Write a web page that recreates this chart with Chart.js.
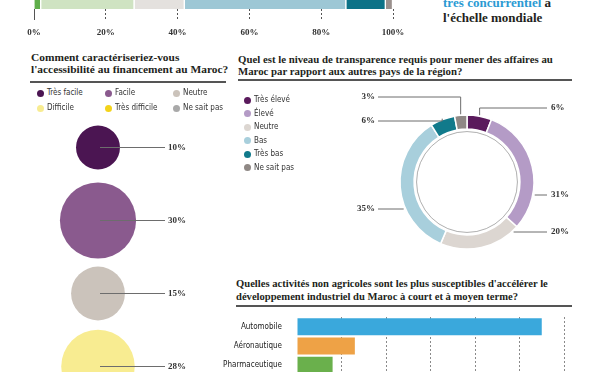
<!DOCTYPE html>
<html>
<head>
<meta charset="utf-8">
<script src="https://cdn.jsdelivr.net/npm/chart.js@4/dist/chart.umd.min.js"></script>
<style>
  body { margin: 0; width: 600px; height: 372px; overflow: hidden; background: #fff; position: relative; }
  canvas { position: absolute; }
  .t { position: absolute; font-family: "Liberation Serif", serif; font-weight: bold; color: #231f20; white-space: nowrap; }
  .rule { position: absolute; height: 1.5px; background: #555; }
  .lg { position: absolute; font-family: "DejaVu Sans Condensed", "Liberation Sans Narrow", Roboto, sans-serif; font-size: 8px; color: #333; white-space: nowrap; line-height: 10px; }
  .lg i { position: absolute; width: 7px; height: 7px; border-radius: 50%; left: -10px; top: 1.5px; }
</style>
</head>
<body>

<div class="t" style="left:443px;top:-4px;font-size:13px;line-height:13px"><span style="color:#2b9ad3">très concurrentiel</span> à</div>
<div class="t" style="left:443px;top:11px;font-size:13px;line-height:13px">l'échelle mondiale</div>

<div class="t" style="left:31px;top:52px;font-size:11.4px;line-height:11.5px">Comment caractériseriez-vous<br>l'accessibilité au financement au Maroc?</div>
<div class="rule" style="left:30px;top:81px;width:196px"></div>

<div class="t" style="left:238px;top:53px;font-size:10.8px;line-height:12px">Quel est le niveau de transparence requis pour mener des affaires au<br>Maroc par rapport aux autres pays de la région?</div>
<div class="rule" style="left:238px;top:79px;width:334px"></div>

<div class="t" style="left:236px;top:278px;font-size:10.6px;line-height:12.5px">Quelles activités non agricoles sont les plus susceptibles d'accélérer le<br>développement industriel du Maroc à court et à moyen terme?</div>
<div class="rule" style="left:236px;top:305px;width:336px"></div>

<canvas id="topBar" width="600" height="50" style="left:0;top:-11px"></canvas>
<canvas id="bubbles" width="230" height="300" style="left:0;top:110px"></canvas>
<canvas id="donut" width="250" height="200" style="left:342px;top:82px"></canvas>
<canvas id="sectors" width="400" height="58" style="left:200px;top:317px"></canvas>

<script>
// top stacked bar (legend is outside the crop)
const topSegments = ["Réponse 1", "Réponse 2", "Réponse 3", "Réponse 4", "Réponse 5", "Réponse 6"];
const topValues = [2, 26, 14, 45, 11, 2];
const topColors = ["#5fae4a", "#cfe3c2", "#e4e1de", "#9dc7d5", "#0c7287", "#9a908d"];

// accessibilité au financement
const finCategories = ["Très facile", "Facile", "Neutre", "Difficile", "Très difficile", "Ne sait pas"];
const finColors = ["#4b1552", "#8a5a8e", "#cbc3bb", "#f8ec91", "#f3d31a", "#a9a9a9"];
const finValues = [10, 30, 15, 28];

// transparence
const transCategories = ["Très élevé", "Élevé", "Neutre", "Bas", "Très bas", "Ne sait pas"];
const transValues = [6, 31, 20, 35, 6, 3];
const transColors = ["#5a1a5c", "#b49bc6", "#dcd6d1", "#a8cfdc", "#117a8b", "#8f8885"];

// activités non agricoles
const sectors = ["Automobile", "Aéronautique", "Pharmaceutique"];
const sectorValues = [55, 13, 8];
const sectorColors = ["#3aa8dc", "#eea246", "#6ab04c"];

const serif = "Liberation Serif";
const narrow = "'DejaVu Sans Condensed', 'Liberation Sans Narrow', Roboto, sans-serif";

// html legends
finCategories.forEach((c, i) => {
  const d = document.createElement("div");
  d.className = "lg";
  d.style.left = (47 + (i % 3) * 68) + "px";
  d.style.top = (88 + Math.floor(i / 3) * 15) + "px";
  d.innerHTML = `<i style="background:${finColors[i]}"></i>${c}`;
  document.body.append(d);
});
transCategories.forEach((c, i) => {
  const d = document.createElement("div");
  d.className = "lg";
  d.style.left = "254px";
  d.style.top = (95 + i * 13.5) + "px";
  d.innerHTML = `<i style="background:${transColors[i]}"></i>${c}`;
  document.body.append(d);
});

new Chart(document.getElementById("topBar"), {
  type: "bar",
  data: {
    labels: [""],
    datasets: topSegments.map((s, i) => ({
      label: s,
      data: [topValues[i]],
      backgroundColor: topColors[i],
      borderColor: "#fff",
      borderWidth: { right: 1.5 },
      borderSkipped: false,
      barPercentage: 1,
      categoryPercentage: 1,
    })),
  },
  options: {
    indexAxis: "y",
    responsive: false,
    animation: false,
    layout: { padding: { left: 34, right: 207, top: 0, bottom: 0 } },
    plugins: { legend: { display: false }, tooltip: { enabled: false } },
    scales: {
      x: {
        stacked: true,
        min: 0,
        max: 100,
        afterFit: (s) => { s.height = 30; },
        border: { display: false },
        grid: {
          drawOnChartArea: false,
          tickLength: 11,
          tickColor: "#555",
          tickWidth: 1,
          tickBorderDash: (c) => (c.index === 0 ? [] : [2, 2]),
        },
        ticks: {
          stepSize: 20,
          padding: 7,
          maxRotation: 0,
          color: "#333",
          font: { family: serif, weight: "bold", size: 9 },
          callback: (v) => v + "%",
        },
      },
      y: { stacked: true, display: false },
    },
  },
});

const bubbleLabels = {
  id: "bubbleLabels",
  afterDatasetsDraw(chart) {
    const ctx = chart.ctx;
    chart.getDatasetMeta(0).data.forEach((pt, i) => {
      ctx.save();
      ctx.strokeStyle = "#6d6d6d";
      ctx.lineWidth = 1;
      ctx.beginPath();
      ctx.moveTo(pt.x + 2, pt.y);
      ctx.lineTo(pt.x + 67, pt.y);
      ctx.stroke();
      ctx.fillStyle = "#333";
      ctx.font = `bold 9px "${serif}"`;
      ctx.textBaseline = "middle";
      ctx.fillText(finValues[i] + "%", pt.x + 70, pt.y);
      ctx.restore();
    });
  },
};

new Chart(document.getElementById("bubbles"), {
  type: "bubble",
  data: {
    datasets: [{
      data: finValues.map((v, i) => ({ x: 0, y: i, r: 6.95 * Math.sqrt(v) })),
      backgroundColor: finColors.slice(0, finValues.length),
      borderWidth: 0,
      clip: false,
    }],
  },
  options: {
    responsive: false,
    animation: false,
    layout: { autoPadding: false, padding: { left: 0, right: 34, top: 37.5, bottom: 43.5 } },
    plugins: { legend: { display: false }, tooltip: { enabled: false } },
    scales: {
      x: { display: false, min: -1, max: 1 },
      y: { display: false, min: 0, max: 3, reverse: true },
    },
  },
  plugins: [bubbleLabels],
});

// label y offsets from the donut centre
const donutLabelDy = [-74, 13, 50, 27, -61, -85];

const donutLabels = {
  id: "donutLabels",
  beforeDatasetsDraw(chart) {
    const arc = chart.getDatasetMeta(0).data[0];
    const ctx = chart.ctx;
    ctx.save();
    ctx.strokeStyle = "#9a9a9a";
    ctx.lineWidth = 0.8;
    ctx.beginPath();
    ctx.arc(arc.x, arc.y, arc.innerRadius - 2.5, 0, Math.PI * 2);
    ctx.stroke();
    ctx.restore();
  },
  afterDatasetsDraw(chart) {
    const ctx = chart.ctx;
    chart.getDatasetMeta(0).data.forEach((a, i) => {
      const R = a.outerRadius;
      const mid = (a.startAngle + a.endAngle) / 2;
      const ax = a.x + (R + 1) * Math.cos(mid);
      const ay = a.y + (R + 1) * Math.sin(mid);
      const dy = donutLabelDy[i];
      const ly = a.y + dy;
      const right = ax >= a.x;
      const endX = right ? a.x + 80 : a.x - 89;
      ctx.save();
      ctx.strokeStyle = "#6d6d6d";
      ctx.lineWidth = 1;
      ctx.beginPath();
      if (Math.abs(dy) > 0.8 * R) {
        ctx.moveTo(ax, ay);
        ctx.lineTo(ax, ly);
      } else {
        const ex = Math.sqrt(R * R - dy * dy) + 2;
        ctx.moveTo(right ? a.x + ex : a.x - ex, ly);
      }
      ctx.lineTo(endX, ly);
      ctx.stroke();
      ctx.fillStyle = "#333";
      ctx.font = `bold 9px "${serif}"`;
      ctx.textBaseline = "middle";
      ctx.textAlign = right ? "left" : "right";
      ctx.fillText(transValues[i] + "%", right ? a.x + 84 : a.x - 92, ly);
      ctx.restore();
    });
  },
};

new Chart(document.getElementById("donut"), {
  type: "doughnut",
  data: {
    labels: transCategories,
    datasets: [{
      data: transValues,
      backgroundColor: transColors,
      borderColor: "#fff",
      borderWidth: 1.5,
    }],
  },
  options: {
    responsive: false,
    animation: false,
    radius: 67,
    cutout: "79%",
    plugins: { legend: { display: false }, tooltip: { enabled: false } },
  },
  plugins: [donutLabels],
});

new Chart(document.getElementById("sectors"), {
  type: "bar",
  data: {
    labels: sectors,
    datasets: [{
      data: sectorValues,
      backgroundColor: sectorColors,
      barPercentage: 0.88,
      categoryPercentage: 1,
    }],
  },
  options: {
    indexAxis: "y",
    responsive: false,
    animation: false,
    layout: { autoPadding: false, padding: { left: 0, right: 36, top: 0, bottom: 0 } },
    plugins: { legend: { display: false }, tooltip: { enabled: false } },
    scales: {
      x: {
        min: 0,
        max: 60,
        afterFit: (s) => { s.height = 0; },
        ticks: { display: false, stepSize: 10 },
        border: { display: false, dash: [2, 2] },
        grid: {
          drawTicks: false,
          lineWidth: 1,
          color: (c) => (c.index === 0 ? "rgba(0,0,0,0)" : "#8a8a8a"),
        },
      },
      y: {
        afterFit: (s) => { s.width = 97; s.paddingTop = 0; s.paddingBottom = 0; },
        border: { display: false },
        grid: { display: false },
        ticks: { color: "#222", padding: 7, font: { family: narrow, size: 8 } },
      },
    },
  },
});
</script>
</body>
</html>
